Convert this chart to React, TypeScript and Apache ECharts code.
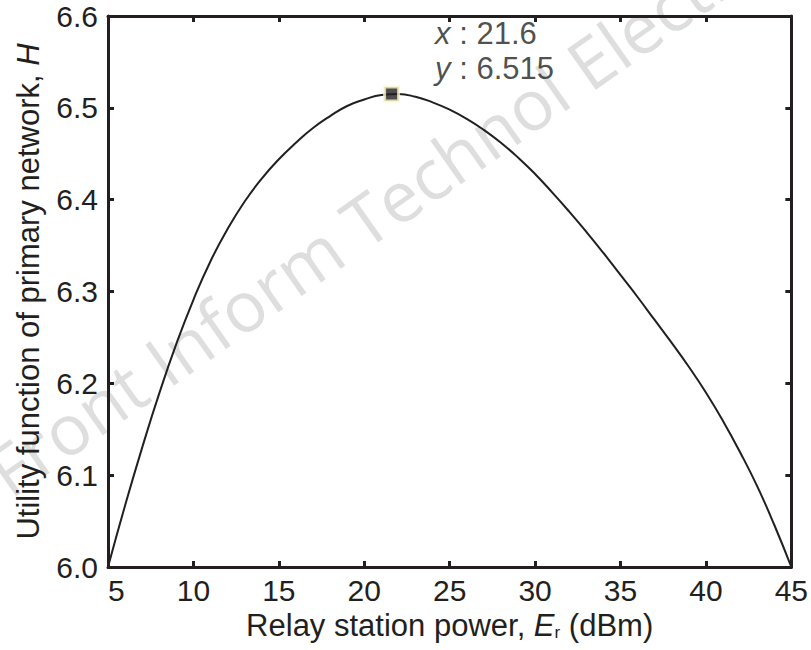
import React, { useEffect, useRef } from "react";
import * as echarts from "echarts";

// Relay station power E_r (dBm)
const xValues: number[] = [
  5, 6, 7, 8, 9, 10, 11, 12, 13, 14, 15, 16, 17, 18, 19, 20, 21, 22, 23, 24, 25,
  26, 27, 28, 29, 30, 31, 32, 33, 34, 35, 36, 37, 38, 39, 40, 41, 42, 43, 44, 45,
];
// Utility function of primary network H
const hValues: number[] = [
  6.0, 6.067, 6.13, 6.189, 6.243, 6.291, 6.333, 6.368, 6.398, 6.423, 6.444,
  6.462, 6.478, 6.491, 6.502, 6.509, 6.514, 6.515, 6.512, 6.506, 6.498, 6.488,
  6.476, 6.462, 6.446, 6.428, 6.408, 6.387, 6.365, 6.342, 6.318, 6.294, 6.269,
  6.244, 6.218, 6.19, 6.159, 6.125, 6.088, 6.046, 6.0,
];
const peakPoint: [number, number] = [21.6, 6.515];
const xTicks: number[] = [5, 10, 15, 20, 25, 30, 35, 40, 45];
const yTicks: number[] = [6.0, 6.1, 6.2, 6.3, 6.4, 6.5, 6.6];
const watermark = "Front Inform Technol Electron Eng";

const INK = "#231f20";
const FONT = "Liberation Sans";

export default function App() {
  const ref = useRef<HTMLDivElement>(null);
  useEffect(() => {
    if (!ref.current) return;
    const chart = echarts.init(ref.current, undefined, { renderer: "svg" });
    const axisLine = { show: true, lineStyle: { color: INK, width: 3 } };
    const axisTick = { show: true, inside: true, length: 6, lineStyle: { color: INK, width: 3 } };
    const option: any = {
      animation: false,
      backgroundColor: "#ffffff",
      grid: { left: 108, right: 8, top: 16, bottom: 83, containLabel: false },
      textStyle: { fontFamily: FONT },
      xAxis: [
        {
          type: "value",
          min: xTicks[0],
          max: xTicks[xTicks.length - 1],
          interval: 5,
          position: "bottom",
          axisLine,
          axisTick,
          splitLine: { show: false },
          axisLabel: {
            color: INK,
            fontSize: 30,
            fontFamily: FONT,
            margin: 8,
            alignMinLabel: "left",
            alignMaxLabel: "center",
          },
          name: "Relay station power, {i|E}{s|r} (dBm)",
          nameLocation: "middle",
          nameGap: 38,
          nameTextStyle: {
            color: INK,
            fontSize: 31,
            fontFamily: FONT,
            rich: {
              i: { fontStyle: "italic", fontSize: 31, color: INK, fontFamily: FONT },
              s: { fontSize: 17, color: INK, fontFamily: FONT, padding: [14, 0, 0, 0] },
            },
          },
        },
        {
          type: "value",
          min: xTicks[0],
          max: xTicks[xTicks.length - 1],
          interval: 5,
          position: "top",
          axisLine,
          axisTick,
          splitLine: { show: false },
          axisLabel: { show: false },
        },
      ],
      yAxis: [
        {
          type: "value",
          min: yTicks[0],
          max: yTicks[yTicks.length - 1],
          interval: 0.1,
          position: "left",
          axisLine,
          axisTick,
          splitLine: { show: false },
          axisLabel: {
            color: INK,
            fontSize: 30,
            fontFamily: FONT,
            margin: 10,
            formatter: (v: number) => v.toFixed(1),
          },
          name: "Utility function of primary network, {i|H}",
          nameLocation: "middle",
          nameRotate: 90,
          nameGap: 64,
          nameTextStyle: {
            color: INK,
            fontSize: 31,
            fontFamily: FONT,
            rich: {
              i: { fontStyle: "italic", fontSize: 31, color: INK, fontFamily: FONT },
            },
          },
        },
        {
          type: "value",
          min: yTicks[0],
          max: yTicks[yTicks.length - 1],
          interval: 0.1,
          position: "right",
          axisLine,
          axisTick,
          splitLine: { show: false },
          axisLabel: { show: false },
        },
      ],
      graphic: [
        {
          type: "text",
          x: -5,
          y: 478,
          rotation: 0.611,
          z: -10,
          silent: true,
          style: {
            text: watermark,
            fontSize: 70,
            fontFamily: "Open Sans",
            fill: "#dedede",
            align: "left",
            verticalAlign: "middle",
          },
        },
      ],
      series: [
        {
          type: "line",
          data: xValues.map((x, i) => [x, hValues[i]]),
          smooth: 0.5,
          showSymbol: false,
          lineStyle: { color: INK, width: 2 },
          z: 2,
        },
        {
          type: "scatter",
          data: [peakPoint],
          symbol: "rect",
          symbolSize: 14,
          itemStyle: { color: INK, borderColor: "#fbf6c9", borderWidth: 3 },
          z: 5,
          label: {
            show: true,
            position: [52, -70],
            align: "left",
            verticalAlign: "top",
            lineHeight: 35,
            fontSize: 31,
            fontFamily: FONT,
            color: INK,
            formatter: (p: any) =>
              `{i|x} : ${p.value[0]}\n{i|y} : ${p.value[1].toFixed(3)}`,
            rich: {
              i: { fontStyle: "italic", fontSize: 31, color: INK, fontFamily: FONT, lineHeight: 35 },
            },
          },
        },
      ],
    };
    chart.setOption(option);
    return () => chart.dispose();
  }, []);
  return (
    <div
      ref={ref}
      style={{ position: "fixed", left: 0, top: 0, width: 811, height: 650, background: "#fff" }}
    />
  );
}
